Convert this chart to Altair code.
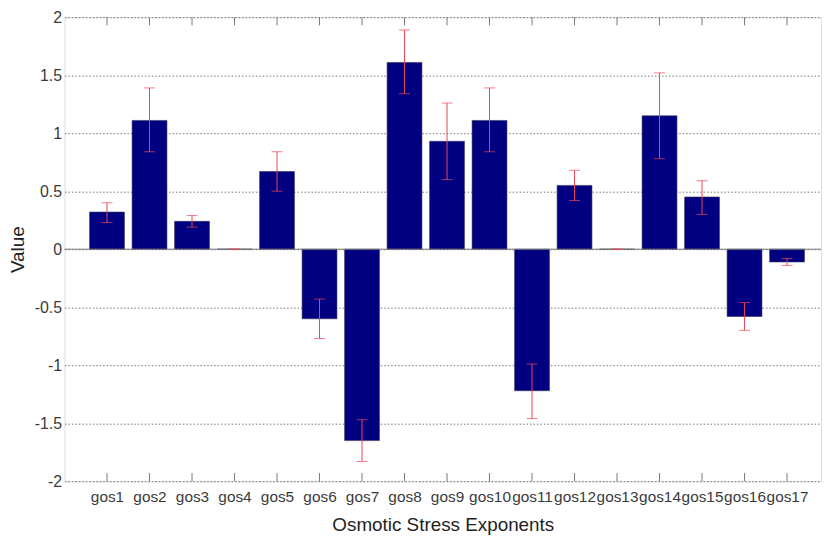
import altair as alt
import pandas as pd

categories = ["gos1", "gos2", "gos3", "gos4", "gos5", "gos6", "gos7", "gos8", "gos9",
              "gos10", "gos11", "gos12", "gos13", "gos14", "gos15", "gos16", "gos17"]
values = [0.32, 1.11, 0.24, 0.0, 0.67, -0.60, -1.65, 1.61, 0.93,
          1.11, -1.22, 0.55, 0.0, 1.15, 0.45, -0.58, -0.11]
err_low = [0.23, 0.84, 0.19, 0.0, 0.50, -0.77, -1.83, 1.34, 0.60,
           0.84, -1.46, 0.42, 0.0, 0.78, 0.30, -0.70, -0.14]
err_high = [0.40, 1.39, 0.29, 0.0, 0.84, -0.43, -1.47, 1.89, 1.26,
            1.39, -0.99, 0.68, 0.0, 1.52, 0.59, -0.46, -0.08]
y_ticks = [-2, -1.5, -1, -0.5, 0, 0.5, 1, 1.5, 2]

df = pd.DataFrame({
    "name": categories,
    "idx": list(range(1, len(categories) + 1)),
    "value": values,
    "lo": err_low,
    "hi": err_high,
})

FONT = "Liberation Sans"
W, H = 763, 468
xscale = alt.Scale(domain=[0, 17.8], nice=False, zero=False)
yscale = alt.Scale(domain=[-2, 2], nice=False)

base = alt.Chart(df)

bars = base.transform_calculate(
    x1="datum.idx - 0.41", x2="datum.idx + 0.41"
).mark_bar(color="#000080", stroke="#333355", strokeWidth=0.6).encode(
    x=alt.X("x1:Q", scale=xscale,
            axis=alt.Axis(values=list(range(1, 18)),
                          labelExpr="'gos' + datum.value",
                          title="Osmotic Stress Exponents",
                          grid=False, ticks=False, domain=False,
                          labelFont=FONT, labelFontSize=15.5, labelColor="#3a3a3a",
                          labelPadding=8,
                          titleFont=FONT, titleFontSize=19, titleFontWeight="normal",
                          titleColor="#222222", titlePadding=11)),
    x2="x2:Q",
    y=alt.Y("value:Q", scale=yscale,
            axis=alt.Axis(values=y_ticks, title="Value", grid=True,
                          labelExpr="datum.value + ''",
                          gridDash=[1.5, 2], gridColor="#555555", gridWidth=0.8,
                          ticks=False, domain=False,
                          labelFont=FONT, labelFontSize=16, labelColor="#3a3a3a",
                          labelPadding=3,
                          titleFont=FONT, titleFontSize=19, titleFontWeight="normal",
                          titleColor="#222222",
                          titleX=-47, titleY=H / 2, titleBaseline="middle",
                          titleAngle=270, titleAlign="center")),
    y2=alt.datum(0),
)

zero = alt.Chart(pd.DataFrame({"y": [0]})).mark_rule(color="#777777", strokeWidth=1).encode(
    y=alt.Y("y:Q", scale=yscale)
)

ERR = "#ee4455"
err_rule = base.mark_rule(color=ERR, strokeWidth=1).encode(
    x=alt.X("idx:Q", scale=xscale), y=alt.Y("lo:Q", scale=yscale), y2="hi:Q"
)
cap_lo = base.mark_tick(color=ERR, orient="horizontal", size=11, thickness=1).encode(
    x=alt.X("idx:Q", scale=xscale), y=alt.Y("lo:Q", scale=yscale)
)
cap_hi = base.mark_tick(color=ERR, orient="horizontal", size=11, thickness=1).encode(
    x=alt.X("idx:Q", scale=xscale), y=alt.Y("hi:Q", scale=yscale)
)

bottom_ticks = base.mark_rule(color="#777777", strokeWidth=1).encode(
    x=alt.X("idx:Q", scale=xscale), y=alt.datum(-2), y2=alt.datum(-1.93)
)
top_ticks = base.mark_rule(color="#777777", strokeWidth=1).encode(
    x=alt.X("idx:Q", scale=xscale), y=alt.datum(2), y2=alt.datum(1.93)
)

chart = alt.layer(bars, zero, err_rule, cap_lo, cap_hi, bottom_ticks, top_ticks).properties(
    width=W, height=H,
    autosize=alt.AutoSizeParams(type="none"),
    padding={"left": 57, "top": 7, "right": 4, "bottom": 54},
).configure_view(stroke="#777777", strokeWidth=1.2).configure(background="white")

chart.save("out.html", embed_options={"renderer": "svg", "actions": False})
